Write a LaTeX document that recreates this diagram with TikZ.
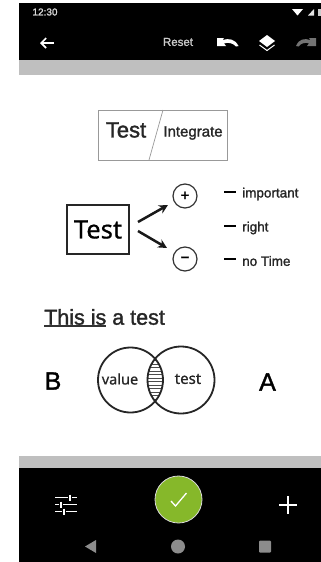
\documentclass[tikz,border=0pt]{standalone}
\usepackage{fontspec}
\setmainfont[FakeBold=1.5]{Liberation Sans}
\newfontfamily\notofont[FakeBold=0.6]{Noto Sans}
\usetikzlibrary{arrows.meta,patterns}
\newcommand{\fsz}[1]{\fontsize{#1}{#1}\selectfont}
\definecolor{barblack}{HTML}{000000}
\definecolor{bargray}{HTML}{BFBFBF}
\definecolor{okgreen}{HTML}{86B82A}
\definecolor{navgray}{HTML}{8C8C8C}
\tikzset{
    label/.style={inner sep=0pt,text=black!85},
    tinylabel/.style={label,font=\fsz{13.5},anchor=west},
    dashmark/.style={line width=2pt,black},
    branch/.style={line width=2.5pt,black!90,-{Stealth[length=9pt,width=9pt]}},
    ring/.style={circle,draw=black!80,line width=1.2pt,inner sep=0pt,minimum size=24pt,font=\fsz{15}},
    vennring/.style={draw=black!85,line width=1.8pt},
    barlabel/.style={inner sep=0pt,text=white},
    icon/.style={white,line width=1.6pt}
}
\begin{document}
\begin{tikzpicture}[x=1pt,y=-1pt]
    \useasboundingbox (0,0) rectangle (321,562);
    \fill[white] (0,0) rectangle (321,562);

    % top bar
    \fill[barblack] (19,3) rectangle (321,60);
    \fill[bargray] (19,60) rectangle (321,75);
    \node[barlabel,text=white!85!black,font=\fsz{10}] (clock) at (45,12) {12:30};
    \fill[white] (292,9) -- (303,9) -- (297.5,15.5) -- cycle;
    \fill[white!90!black] (308,15.5) -- (314,15.5) -- (314,9) -- cycle;
    \fill[white!80!black] (318,9) rectangle (321,15.5);
    \draw[icon,-{Straight Barb[length=5pt,width=10pt]}] (54,43) -- (40,43);
    \node[barlabel,text=white!80!black,font=\fsz{11.5}] (reset) at (178,42) {Reset};
    % undo, layers, redo
    \fill[white] (217,38) -- (224,38) -- (222.5,40) .. controls (229,38) and (235,39) .. (238.5,46) -- (236,46.5) .. controls (233,43) and (228,42) .. (224,43.5) -- (226,46) -- (217,46) -- cycle;
    \fill[white] (267,35) -- (275,41) -- (267,47) -- (259,41) -- cycle;
    \draw[white,line width=1pt] (259.5,45) -- (267,50.5) -- (274.5,45);
    \fill[black!55] (316,38) -- (309,38) -- (310.5,40) .. controls (304,38) and (299,39) .. (296,46) -- (298.5,46.5) .. controls (301,43) and (306,42) .. (309,43.5) -- (307,46) -- (316,46) -- cycle;

    % test / integrate box
    \node[draw=black!40,line width=0.9pt,minimum width=129pt,minimum height=50pt,inner sep=0pt] (splitbox) at (162.5,135) {};
    \draw[black!40,line width=0.7pt] (163,110) coordinate (slashtop) -- (149,160) coordinate (slashbottom);
    \node[label,font=\fsz{22}] (splittest) at (126,130) {Test};
    \node[label,font=\fsz{15}] (integrate) at (193,133) {Integrate};

    % test with the two branches
    \node[draw=black!85,line width=1.4pt,minimum width=62pt,minimum height=49pt,inner sep=0pt,font=\notofont\fsz{25.5}] (testbox) at (98,229.5) {Test};
    \node[ring] (plus) at (185,196) {+};
    \node[ring] (minus) at (185,259) {\textbf{--}};
    \coordinate (upstart) at (138,222);
    \coordinate (upend) at (168,205);
    \coordinate (downstart) at (138,231);
    \coordinate (downend) at (167,248);
    \draw[branch] (upstart) -- (upend);
    \draw[branch] (downstart) -- (downend);

    \node[tinylabel] (important) at (242,194) {important};
    \node[tinylabel] (right) at (242,228) {right};
    \node[tinylabel] (notime) at (242,261) {no Time};
    \draw[dashmark] ([xshift=-18pt,yshift=2pt]important.west) -- ([xshift=-6pt,yshift=2pt]important.west);
    \draw[dashmark] ([xshift=-18pt,yshift=2pt]right.west) -- ([xshift=-6pt,yshift=2pt]right.west);
    \draw[dashmark] ([xshift=-18pt,yshift=2pt]notime.west) -- ([xshift=-6pt,yshift=2pt]notime.west);

    % underlined line
    \node[label,font=\fsz{21.5},anchor=west] (sentence) at (44,317) {This is a test};
    \coordinate (ulstart) at (44,326);
    \coordinate (ulend) at (106,326);
    \draw[black!80,line width=1.2pt] (ulstart) -- (ulend);

    % venn
    \begin{scope}
        \clip (130.5,380) circle (32.5);
        \clip (181,380) circle (33.5);
        \foreach \yy in {350,353.5,...,412}
            \draw[black!70,line width=0.7pt] (140,\yy) -- (170,\yy);
    \end{scope}
    \draw[vennring] (130.5,380) circle (32.5);
    \draw[vennring] (181,380) circle (33.5);
    \node[label,font=\notofont\fsz{14.5}] (value) at (120,379) {value};
    \node[label,font=\notofont\fsz{15}] (vtest) at (188,379) {test};
    \node[label,font=\fsz{25},text=black] (bside) at (53,381) {B};
    \node[label,font=\fsz{25},text=black] (aside) at (267.5,382) {A};

    % bottom bar
    \fill[bargray] (19,456) rectangle (321,468);
    \fill[barblack] (19,468) rectangle (321,562);
    \node[circle,fill=okgreen,draw=white!85!black,line width=0.8pt,minimum size=47pt,inner sep=0pt] (okbtn) at (178.5,499.5) {};
    \draw[white,line width=1.3pt] (171,501) -- (175.5,506) -- (186.5,493);
    % sliders
    \draw[icon] (55,497.5) -- (68,497.5) (72,497.5) -- (77,497.5);
    \draw[icon] (55,504.5) -- (59,504.5) (63,504.5) -- (77,504.5);
    \draw[icon] (55,511.5) -- (62,511.5) (66,511.5) -- (77,511.5);
    \draw[icon] (70,494.5) -- (70,500.5) (61,501.5) -- (61,507.5) (64,508.5) -- (64,514.5);
    \draw[white,line width=2.1pt] (279,505) -- (297,505) (288,496) -- (288,514);
    \fill[navgray] (96,540) -- (96,553) -- (85,546.5) -- cycle;
    \fill[navgray] (178,546.5) circle (7);
    \fill[navgray,rounded corners=1pt] (259,540.5) rectangle (271,552.5);
\end{tikzpicture}
\end{document}
